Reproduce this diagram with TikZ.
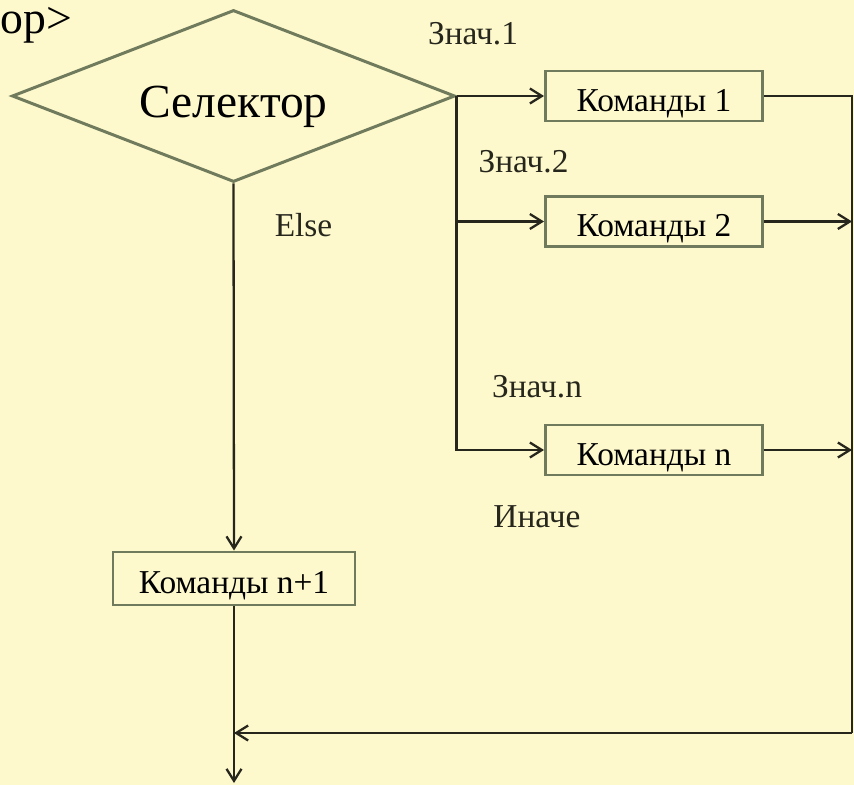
\documentclass[tikz,border=0pt]{standalone}
\usepackage{fontspec}
\setmainfont{Liberation Serif}
\usetikzlibrary{shapes.geometric,arrows.meta,positioning}
\definecolor{paper}{RGB}{253,249,204}
\definecolor{edge}{RGB}{112,122,92}
\definecolor{ink}{RGB}{38,38,28}
\tikzset{
  cmdbox/.style={draw=edge, line width=1.7pt, minimum width=43.4mm, minimum height=10mm, inner sep=0pt,
                 text height=17.2pt, text depth=0pt, font=\fontsize{19}{22}\selectfont},
  link/.style={draw=ink, line width=1.3pt},
  flow/.style={-{Straight Barb[length=2.4mm,width=3mm,line width=1.3pt]}},
  lbl/.style={anchor=base, inner sep=0pt, font=\fontsize{19}{22}\selectfont, text=ink}
}
\begin{document}
\begin{tikzpicture}[x=0.2mm,y=-0.2mm]
                % Background and page frame
                \fill[paper] (0,0) rectangle (854,785);
                \useasboundingbox (0,0) rectangle (854,785);
                % Title text at the top left corner
                \node[anchor=base west, inner sep=0pt, font=\fontsize{26}{29}\selectfont] (title) at (0,34) {ор>};
                % The selector and the command boxes
                \node[diamond, aspect=2.6, draw=edge, line width=1.7pt, inner sep=0pt,
                      minimum width=88.6mm, minimum height=34.4mm, text height=25pt, text depth=0pt,
                      font=\fontsize{27}{30}\selectfont] (sel) at (233.5,96) {Селектор};
                \node[cmdbox] (b1) at (654,96) {Команды 1};
                \node[cmdbox] (b2) at (654,221.5) {Команды 2};
                \node[cmdbox] (bn) at (654,450) {Команды n};
                \node[cmdbox, minimum width=48.4mm, minimum height=10.6mm] (bn1) at (234,578.5) {Команды n+1};
                % Branch labels
                \node[lbl] (v1) at (473,45) {Знач.1};
                \node[lbl] (v2) at (523.5,173) {Знач.2};
                \node[lbl] (vn) at (537,397) {Знач.n};
                \node[lbl] (other) at (537,527) {Иначе};
                \node[lbl] (els) at (303.5,237) {Else};
                % Points of the return line
                \coordinate (rtop) at (852,96);
                \coordinate (rbot) at (852,733);
                \coordinate (exit) at (234,783);
                % Branches out of the selector
                \draw[link,flow] (sel.east) -- (b1.west);
                \draw[link,flow] (sel.east |- b2.west) -- (b2.west);
                \draw[link,flow] (sel.east) |- (bn.west);
                \draw[link,flow] (sel.south) -- (bn1.north);
                % Return line on the right
                \draw[link] (b1.east) -- (rtop) -- (rbot);
                \draw[link,flow] (b2.east) -- (b2.east -| rtop);
                \draw[link,flow] (bn.east) -- (bn.east -| rtop);
                \draw[link,flow] (rbot) -- (rbot -| bn1.south);
                \draw[link,flow] (bn1.south) -- (exit);
\end{tikzpicture}
\end{document}
